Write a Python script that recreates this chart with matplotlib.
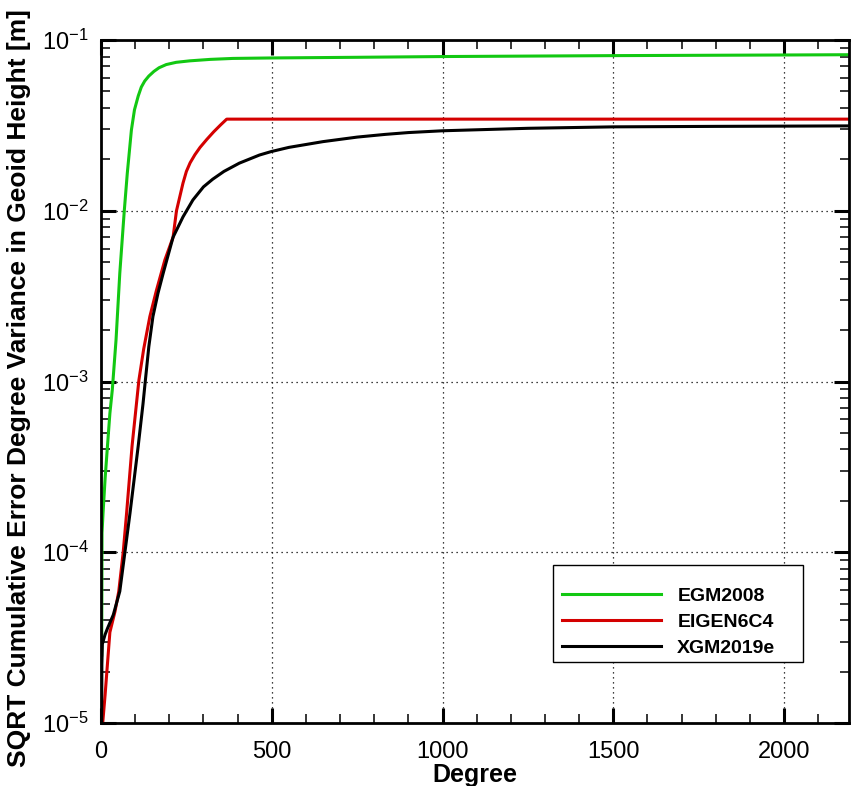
import math
import matplotlib
matplotlib.use("Agg")
import matplotlib.pyplot as plt
from matplotlib.patches import Rectangle
from matplotlib.ticker import MultipleLocator, LogLocator, FixedLocator, FuncFormatter, NullFormatter

plt.rcParams["font.family"] = ["Liberation Sans", "DejaVu Sans"]
plt.rcParams["mathtext.fontset"] = "custom"
plt.rcParams["mathtext.rm"] = "Liberation Sans"
plt.rcParams["mathtext.it"] = "Liberation Sans"
plt.rcParams["mathtext.bf"] = "Liberation Sans:bold"

# Cumulative geoid-height error (m) versus spherical-harmonic degree
egm2008_deg = [2, 3, 6, 12, 19, 26, 33, 44, 55, 68, 77, 89, 98, 109, 118, 128,
               140, 155, 170, 191, 220, 260, 320, 386, 500, 750, 1000, 1500,
               2000, 2190]
egm2008_val = [2.5e-5, 1.3e-4, 1.7e-4, 2.7e-4, 4.2e-4, 6.5e-4, 8.9e-4, 1.75e-3,
               4.3e-3, 9.9e-3, 1.66e-2, 2.97e-2, 3.9e-2, 4.7e-2, 5.3e-2,
               5.75e-2, 6.15e-2, 6.55e-2, 6.88e-2, 7.18e-2, 7.4e-2, 7.55e-2,
               7.7e-2, 7.8e-2, 7.85e-2, 7.92e-2, 8.0e-2, 8.1e-2, 8.17e-2, 8.2e-2]

eigen6c4_deg = [5, 12, 19.5, 26, 41, 52, 65, 75, 91, 111, 125, 143, 162, 187,
                211, 221, 240, 250, 261, 275, 290, 310, 330, 350, 368, 2190]
eigen6c4_val = [1.0e-5, 1.46e-5, 2.3e-5, 3.4e-5, 4.5e-5, 5.9e-5, 1.0e-4, 1.7e-4,
                4.2e-4, 1.02e-3, 1.55e-3, 2.4e-3, 3.4e-3, 5.15e-3, 7.0e-3,
                1.0e-2, 1.45e-2, 1.7e-2, 1.91e-2, 2.13e-2, 2.35e-2, 2.62e-2,
                2.9e-2, 3.18e-2, 3.44e-2, 3.44e-2]

xgm2019e_deg = [2, 2.5, 4, 12, 19.5, 36, 55, 70, 85, 109, 123, 130, 140, 152,
                167, 182, 211, 240, 269, 300, 327, 360, 405, 464, 498, 550, 650,
                750, 832, 900, 1000, 1250, 1500, 1800, 2190]
xgm2019e_val = [1.0e-5, 2.2e-5, 2.9e-5, 3.3e-5, 3.6e-5, 4.3e-5, 5.9e-5, 1.0e-4,
                1.7e-4, 4.2e-4, 7.4e-4, 1.02e-3, 1.6e-3, 2.4e-3, 3.3e-3, 4.3e-3,
                7.0e-3, 9.2e-3, 1.156e-2, 1.38e-2, 1.53e-2, 1.7e-2, 1.9e-2,
                2.12e-2, 2.22e-2, 2.35e-2, 2.54e-2, 2.7e-2, 2.8e-2, 2.87e-2,
                2.94e-2, 3.04e-2, 3.1e-2, 3.12e-2, 3.14e-2]

series = [
    ("EGM2008", egm2008_deg, egm2008_val, "#12c812"),
    ("EIGEN6C4", eigen6c4_deg, eigen6c4_val, "#d40000"),
    ("XGM2019e", xgm2019e_deg, xgm2019e_val, "#000000"),
]

x_major_ticks = [0, 500, 1000, 1500, 2000]
x_limits = (0, 2190)
y_limits = (1e-5, 1e-1)

fig = plt.figure(figsize=(8.58, 7.86), dpi=100)
W, H = 858, 786
ax = fig.add_axes([101 / W, 1 - 723 / H, 748 / W, 683 / H])

for name, d, v, c in series:
    ax.plot(d, v, color=c, lw=2.2, label=name, solid_joinstyle="round")

ax.set_yscale("log")
ax.set_xlim(*x_limits)
ax.set_ylim(*y_limits)

ax.xaxis.set_major_locator(FixedLocator(x_major_ticks))
ax.xaxis.set_minor_locator(MultipleLocator(100))
ax.yaxis.set_major_locator(LogLocator(base=10, numticks=10))
ax.yaxis.set_minor_locator(LogLocator(base=10, subs=range(2, 10), numticks=20))
ax.yaxis.set_minor_formatter(NullFormatter())


def sci_label(y, pos):
    e = int(round(math.log10(y)))
    return r"$\mathregular{10^{%d}}$" % e


ax.yaxis.set_major_formatter(FuncFormatter(sci_label))

ax.tick_params(which="both", direction="in", top=True, right=True, labelsize=17)
ax.tick_params(which="major", length=11, width=2.2)
ax.tick_params(which="minor", length=6.5, width=1.1)
ax.tick_params(axis="x", which="major", pad=13)
ax.tick_params(axis="y", which="major", pad=9)

for s in ax.spines.values():
    s.set_linewidth(2.0)

ax.grid(True, which="major", linestyle=(0, (1, 3)), color="black", linewidth=0.9)

ax.set_xlabel("Degree", fontsize=18, fontweight="bold", labelpad=0)
ax.set_ylabel("SQRT Cumulative Error Degree Variance in Geoid Height [m]",
              fontsize=19, fontweight="bold")
ax.yaxis.set_label_coords(-0.093, 0.49)

# legend box drawn as its own rectangle, entries placed inside it
box = Rectangle((0.604, 0.0893), 0.3342, 0.142, transform=ax.transAxes,
                facecolor="white", edgecolor="black", linewidth=1.0, zorder=4)
ax.add_patch(box)
leg = ax.legend(loc="upper left", bbox_to_anchor=(0.6015, 0.1142, 0.3345, 0.1),
                mode="expand", frameon=False,
                prop={"size": 14, "weight": "bold"}, handlelength=5.1,
                handletextpad=0.85, labelspacing=0.42, borderpad=0.55,
                borderaxespad=0)
leg.set_zorder(5)
for line in leg.get_lines():
    line.set_linewidth(2.2)

fig.savefig("out.png", dpi=100)
